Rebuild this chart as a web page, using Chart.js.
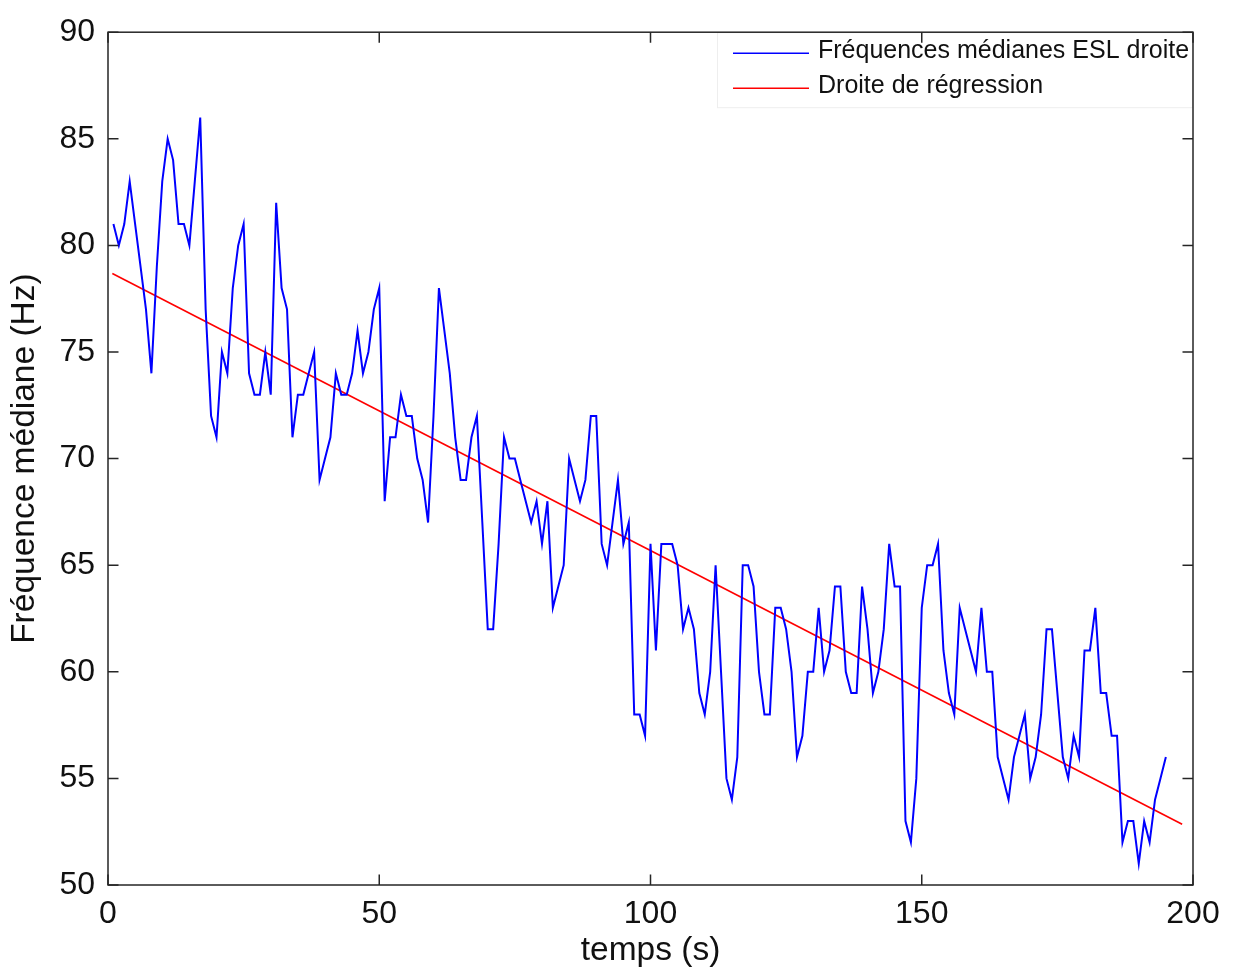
<!DOCTYPE html>
<html lang="fr">
<head>
<meta charset="UTF-8" />
<title>Fréquences médianes ESL droite</title>
<script src="https://cdn.jsdelivr.net/npm/chart.js"></script>
<style>
  html, body { margin: 0; padding: 0; background: #ffffff; }
  #wrap { width: 1234px; height: 969px; }
</style>
</head>
<body>
<div id="wrap"><canvas id="myChart" width="1234" height="969"></canvas></div>
<script>
// fréquences médianes (Hz), une valeur par seconde, t = 1 .. 195
const frequences = [
  81, 80, 81, 83, 81, 79, 77, 74, 79, 83,
  85, 84, 81, 81, 80, 83, 86, 77, 72, 71,
  75, 74, 78, 80, 81, 74, 73, 73, 75, 73,
  82, 78, 77, 71, 73, 73, 74, 75, 69, 70,
  71, 74, 73, 73, 74, 76, 74, 75, 77, 78,
  68, 71, 71, 73, 72, 72, 70, 69, 67, 72,
  78, 76, 74, 71, 69, 69, 71, 72, 67, 62,
  62, 66, 71, 70, 70, 69, 68, 67, 68, 66,
  68, 63, 64, 65, 70, 69, 68, 69, 72, 72,
  66, 65, 67, 69, 66, 67, 58, 58, 57, 66,
  61, 66, 66, 66, 65, 62, 63, 62, 59, 58,
  60, 65, 60, 55, 54, 56, 65, 65, 64, 60,
  58, 58, 63, 63, 62, 60, 56, 57, 60, 60,
  63, 60, 61, 64, 64, 60, 59, 59, 64, 62,
  59, 60, 62, 66, 64, 64, 53, 52, 55, 63,
  65, 65, 66, 61, 59, 58, 63, 62, 61, 60,
  63, 60, 60, 56, 55, 54, 56, 57, 58, 55,
  56, 58, 62, 62, 59, 56, 55, 57, 56, 61,
  61, 63, 59, 59, 57, 57, 52, 53, 53, 51,
  53, 52, 54, 55, 56
];
const temps = frequences.map((_, i) => i + 1);

// droite de régression : extrémités
const tempsRegression = [0.8, 198];
const freqRegression = [78.68, 52.85];

const xTicks = [0, 50, 100, 150, 200];
const yTicks = [50, 55, 60, 65, 70, 75, 80, 85, 90];

const labels = ["Fréquences médianes ESL droite", "Droite de régression"];
const couleurs = ["#0000ff", "#ff0000"];

const police = "'Liberation Sans', Arial, Helvetica, sans-serif";

// cadre, graduations vers l'intérieur et légende façon Matlab
const cadrePlugin = {
  id: "cadre",
  afterDatasetsDraw(chart) {
    const { ctx, chartArea: a, scales } = chart;
    const x = scales.x, y = scales.y;
    ctx.save();

    // légende
    const lx = a.right - 476, ly = a.top, lh = 75;
    ctx.fillStyle = "#ffffff";
    ctx.fillRect(lx, ly, a.right - lx, lh);
    ctx.strokeStyle = "#eeeeee";
    ctx.lineWidth = 1;
    ctx.strokeRect(lx + 0.5, ly + 0.5, a.right - lx - 1, lh);
    ctx.font = "25px " + police;
    ctx.textBaseline = "middle";
    ctx.textAlign = "left";
    const rows = [ly + 21, ly + 56];
    chart.data.datasets.forEach((ds, i) => {
      ctx.strokeStyle = ds.borderColor;
      ctx.lineWidth = 1.5;
      ctx.beginPath();
      ctx.moveTo(a.right - 460, rows[i]);
      ctx.lineTo(a.right - 384, rows[i]);
      ctx.stroke();
      ctx.fillStyle = "#111111";
      ctx.fillText(ds.label, a.right - 375, rows[i] - 2);
    });

    // graduations
    ctx.strokeStyle = "#262626";
    ctx.lineWidth = 1.5;
    const tl = 10.5;
    ctx.beginPath();
    xTicks.forEach(v => {
      const px = x.getPixelForValue(v);
      ctx.moveTo(px, a.bottom); ctx.lineTo(px, a.bottom - tl);
      ctx.moveTo(px, a.top); ctx.lineTo(px, a.top + tl);
    });
    yTicks.forEach(v => {
      const py = y.getPixelForValue(v);
      ctx.moveTo(a.left, py); ctx.lineTo(a.left + tl, py);
      ctx.moveTo(a.right, py); ctx.lineTo(a.right - tl, py);
    });
    ctx.stroke();

    // cadre
    ctx.strokeRect(a.left, a.top, a.right - a.left, a.bottom - a.top);
    ctx.restore();
  }
};

const data = {
  datasets: [
    {
      label: labels[0],
      data: temps.map((t, i) => ({ x: t, y: frequences[i] })),
      borderColor: couleurs[0],
      borderWidth: 2,
      pointRadius: 0,
      tension: 0,
    },
    {
      label: labels[1],
      data: tempsRegression.map((t, i) => ({ x: t, y: freqRegression[i] })),
      borderColor: couleurs[1],
      borderWidth: 1.6,
      pointRadius: 0,
      tension: 0,
    },
  ],
};

const config = {
  type: "line",
  data: data,
  plugins: [cadrePlugin],
  options: {
    responsive: false,
    animation: false,
    devicePixelRatio: 1,
    layout: { padding: { top: 27, right: 41, bottom: 0, left: 0 } },
    plugins: {
      legend: { display: false },
      tooltip: { enabled: false },
    },
    scales: {
      x: {
        type: "linear",
        min: 0,
        max: 200,
        grid: { display: false, drawTicks: false },
        border: { display: false },
        ticks: {
          stepSize: 50,
          padding: 10,
          color: "#111111",
          font: { family: police, size: 32 },
        },
        title: {
          display: true,
          text: "temps (s)",
          color: "#111111",
          font: { family: police, size: 33.5, lineHeight: 1 },
          padding: { top: 0, bottom: 1 },
        },
        afterFit: (scale) => { scale.height = 84; },
      },
      y: {
        min: 50,
        max: 90,
        grid: { display: false, drawTicks: false },
        border: { display: false },
        ticks: {
          stepSize: 5,
          padding: 13,
          color: "#111111",
          font: { family: police, size: 32 },
        },
        title: {
          display: true,
          text: "Fréquence médiane (Hz)",
          color: "#111111",
          font: { family: police, size: 33.5, lineHeight: 1.2 },
          padding: { top: 5, bottom: 0 },
        },
        afterFit: (scale) => { scale.width = 108; },
      },
    },
  },
};

const myChart = new Chart(document.getElementById("myChart"), config);
</script>
</body>
</html>
